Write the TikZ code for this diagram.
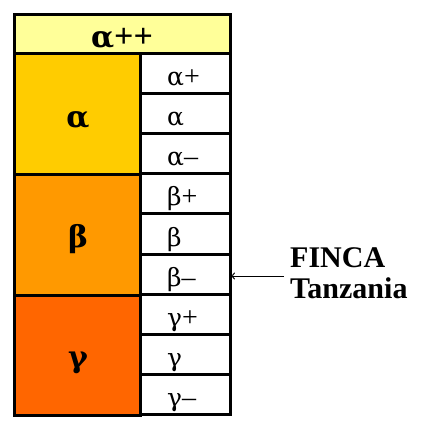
\documentclass[tikz,border=0pt]{standalone}
\usepackage{fontspec}
\setmainfont{Liberation Serif}
\newfontfamily\grk{DejaVu Serif}
\usetikzlibrary{arrows.meta}
\definecolor{hdr}{HTML}{FFFF99}
\definecolor{ca}{HTML}{FFCC00}
\definecolor{cb}{HTML}{FF9900}
\definecolor{cg}{HTML}{FF6600}
\tikzset{
  cell/.style={draw=black, line width=3pt, rectangle, inner sep=0pt, outer sep=0pt},
  small/.style={anchor=base west, inner sep=0pt, font=\fontsize{28}{32}\selectfont},
  big/.style={inner sep=0pt, font=\grk\bfseries\fontsize{30}{34}\selectfont},
}
\begin{document}
\begin{tikzpicture}[x=1pt,y=-1pt]
\useasboundingbox (0,0) rectangle (425,423);
% header
\node[cell, fill=hdr, minimum width=216pt, minimum height=39pt] (h) at (122,33.5) {};
\node[anchor=base, inner sep=0pt, font=\bfseries\fontsize{34}{36}\selectfont] (ht) at (122,47) {{\grk\fontsize{30}{32}\selectfont α}++};
% left blocks
\node[cell, fill=ca, minimum width=126pt, minimum height=121pt] (A) at (77,113.5) {};
\node[cell, fill=cb, minimum width=126pt, minimum height=121pt] (B) at (77,234.5) {};
\node[cell, fill=cg, minimum width=126pt, minimum height=120pt] (G) at (77,355) {};
\node[big, anchor=base] (At) at (78,127) {α};
\node[big, anchor=base] (Bt) at (78,247) {β};
\node[big, anchor=base] (Gt) at (78,367) {γ};
% right cells
\foreach \i/\g/\s in {0/α/+,1/α/,2/α/–,3/β/+,4/β/,5/β/–,6/γ/+,7/γ/,8/γ/–}{
  \pgfmathsetmacro{\yc}{53+40.22*\i+20.11}
  \pgfmathsetmacro{\yb}{53+40.22*(\i+1)-8}
  \node[cell, fill=white, minimum width=90pt, minimum height=40.22pt] (c\i) at (185,\yc) {};
  \node[small] (t\i) at (167,\yb) {{\grk\fontsize{25}{28}\selectfont\g}\s};
}
% label and arrow
\node[anchor=base west, inner sep=0pt, align=left, font=\bfseries\fontsize{30}{31}\selectfont] (f) at (290,298) {FINCA\\Tanzania};
\coordinate (fa) at (284,276);
\draw[line width=1pt, -{To[length=5pt,width=7pt]}] (fa) -- (c5.east |- fa);
\end{tikzpicture}
\end{document}
